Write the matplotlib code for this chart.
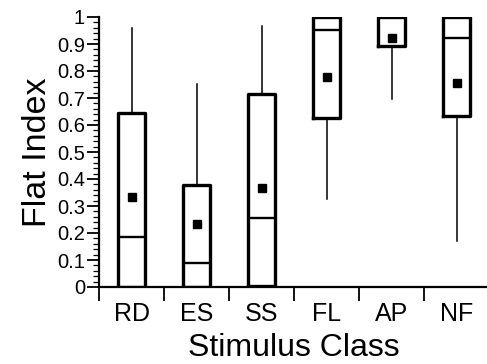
import matplotlib
matplotlib.use('Agg')
import matplotlib.pyplot as plt
import numpy as np
from matplotlib.ticker import MultipleLocator, FixedLocator

# values
classes = ["RD", "ES", "SS", "FL", "AP", "NF"]
whis_lo = [0.0, 0.0, 0.0, 0.326, 0.696, 0.17]
q1 = [0.0, 0.0, 0.005, 0.626, 0.893, 0.633]
median = [0.185, 0.089, 0.255, 0.952, 1.0, 0.922]
q3 = [0.645, 0.378, 0.715, 1.0, 1.0, 1.0]
whis_hi = [0.96, 0.752, 0.967, 1.0, 1.0, 1.0]
mean = [0.335, 0.233, 0.367, 0.778, 0.922, 0.755]

plt.rcParams['font.family'] = ['Liberation Sans', 'DejaVu Sans']

fig = plt.figure(figsize=(4.87, 3.64), dpi=100)
ax = fig.add_axes([99 / 487, 77 / 364, 390 / 487, 270 / 364])

stats = []
for i, c in enumerate(classes):
    stats.append(dict(label=c, whislo=whis_lo[i], q1=q1[i], med=median[i],
                      q3=q3[i], whishi=whis_hi[i], mean=mean[i], fliers=[]))

pos = np.arange(1, len(classes) + 1)
ax.bxp(stats, positions=pos, widths=0.41, showmeans=True, showcaps=False,
       showfliers=False,
       boxprops=dict(color='black', linewidth=2.4),
       medianprops=dict(color='black', linewidth=1.7),
       whiskerprops=dict(color='black', linewidth=1.1),
       meanprops=dict(marker='s', markerfacecolor='black', markeredgecolor='black',
                      markersize=6))

ax.set_xlim(0.5, 6.5)
ax.set_ylim(0, 1)
for s in ['top', 'right']:
    ax.spines[s].set_visible(False)
for s in ['left', 'bottom']:
    ax.spines[s].set_linewidth(1.6)

ax.set_yticks(np.arange(0, 1.01, 0.1))
ax.set_yticklabels(["0"] + [f"{v:.1f}" for v in np.arange(0.1, 0.95, 0.1)] + ["1"])
ax.yaxis.set_minor_locator(MultipleLocator(0.02))
ax.tick_params(axis='y', which='major', length=9, width=1.3, labelsize=14.5, pad=1)
ax.tick_params(axis='y', which='minor', length=4, width=0.9)

ax.set_xticks(pos)
ax.set_xticklabels(classes)
ax.xaxis.set_minor_locator(FixedLocator(np.arange(0.5, 6.6, 1.0)))
ax.tick_params(axis='x', which='major', length=0, labelsize=18, pad=11)
ax.tick_params(axis='x', which='minor', length=10, width=1.3)

ax.set_xlabel("Stimulus Class", fontsize=23, labelpad=5)
ax.set_ylabel("Flat Index", fontsize=24.5, labelpad=3)

plt.savefig("out.png", dpi=100)
plt.close()
